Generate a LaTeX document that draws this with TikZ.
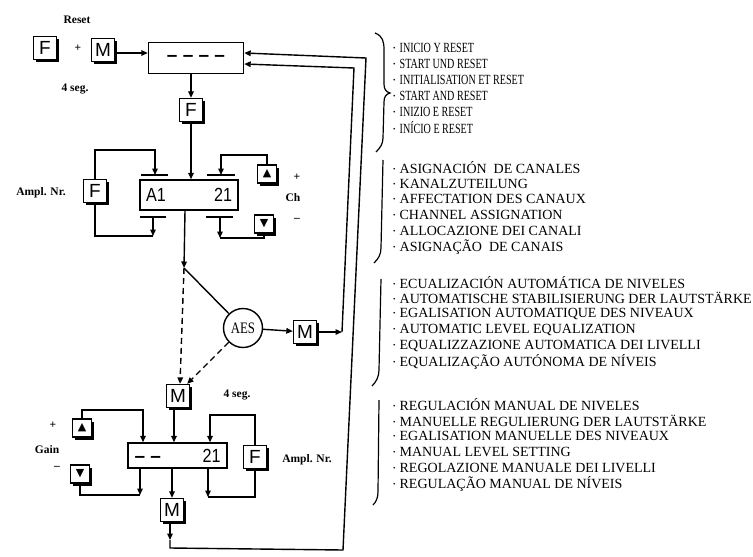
\documentclass[tikz,border=0pt]{standalone}
\usepackage{fontspec}
\setmainfont{Liberation Serif}
\newfontfamily\keyf{Liberation Sans}
\newfontfamily\symf{DejaVu Sans}
\usetikzlibrary{arrows.meta,shadows}
\newcommand\bul{\raisebox{0.35ex}{\fontsize{7}{7}\selectfont •}\hspace{4pt}}
\begin{document}
\begin{tikzpicture}[x=1pt,y=1pt,
  ln/.style={line width=1.4pt},
  arr/.style={line width=1.4pt,-{Triangle[length=6.5pt,width=5.5pt]}},
  dsh/.style={arr,dash pattern=on 6pt off 4pt},
  bar/.style={line width=1.8pt},
  key/.style={draw,fill=white,line width=1.3pt,minimum width=23pt,minimum height=23pt,inner sep=0pt,
    font=\keyf\fontsize{19}{19}\selectfont,
    drop shadow={shadow xshift=2.5pt,shadow yshift=-2.5pt,fill=black,opacity=1}},
  tkey/.style={key,minimum width=19pt,minimum height=18pt,font=\symf\fontsize{11}{11}\selectfont},
  disp/.style={draw,line width=1.4pt,inner sep=0pt,font=\keyf\fontsize{19}{19}\selectfont},
  lab/.style={inner sep=0pt,font=\bfseries\fontsize{11.5}{11.5}\selectfont},
  tx/.style={anchor=west,inner sep=0pt,font=\fontsize{14}{14}\selectfont}
]
\useasboundingbox (0,0) rectangle (753,-557);

% ---------- top: reset ----------
\node[lab] (reset) at (77,-20) {Reset};
\node[key] (f1) at (45,-48) {F};
\node[lab] (plus1) at (78,-48) {+};
\node[key] (m1) at (103,-50) {M};
\node[disp,minimum width=95pt,minimum height=31pt] (d1) at (196,-58) {\textbf{– – – –}};
\node[lab] (seg1) at (75,-89) {4 seg.};
\node[key] (f2) at (191,-110) {F};
\draw[arr] ([yshift=-3pt]m1.east) -- ([yshift=-3pt]m1.east -| d1.west);
\draw[arr] (d1.south -| f2.north) -- (f2.north);

% ---------- channel assignation ----------
\node[disp,minimum width=98pt,minimum height=30pt] (d2) at (189,-195)
  {\makebox[86pt]{\scalebox{0.85}[1]{A1}\hfill\scalebox{0.85}[1]{21}}};
\draw[arr] (f2.south) -- (f2.south |- d2.north);

\coordinate (tlb) at (155,-175);
\coordinate (trb) at (221,-175);
\coordinate (blb) at (153,-217);
\coordinate (brb) at (220,-217);
\draw[bar] (141,-175) -- (168,-175);
\draw[bar] (207,-175) -- (235,-175);
\draw[bar] (140,-217) -- (166,-217);
\draw[bar] (206,-217) -- (233,-217);

\node[key] (f3) at (95,-191) {F};
\node[lab] (ampl1) at (41,-193) {Ampl. Nr.};
\node[tkey] (up1) at (267,-174) {▲};
\node[tkey] (dn1) at (264,-224) {▼};
\node[lab] (plus2) at (297,-177) {+};
\node[lab] (ch) at (293,-198) {Ch};
\node[lab] (minus2) at (297,-220) {–};

\coordinate (k1) at (155,-150);
\draw[arr] (f3.north) |- (k1) -- (tlb);
\coordinate (k2) at (221,-155);
\draw[arr] (up1.north) |- (k2) -- (trb);
\coordinate (k3) at (153,-236);
\draw[ln] (f3.south) |- (k3);
\draw[arr] (blb) -- (k3);
\coordinate (k4) at (220,-238);
\draw[ln] (dn1.south) |- (k4);
\draw[arr] (brb) -- (k4);

% ---------- AES ----------
\coordinate (j) at (184,-268);
\draw[arr] ([xshift=-4pt]d2.south) -- (j);
\node[circle,draw,line width=1.4pt,minimum size=39pt,inner sep=0pt,
  font=\fontsize{16}{16}\selectfont] (aes) at (243,-328) {\scalebox{0.8}[1]{AES}};
\draw[ln] (j) -- (aes);
\node[key] (m5) at (305,-332) {M};
\draw[arr] (aes) -- (m5);
\coordinate (ri) at (342,-332);
\coordinate (ri2) at (354,-68);
\draw[arr] (m5) -- (ri);
\draw[arr] (ri) -- (ri2) -- ([yshift=-6pt]d1.east);

% ---------- manual level ----------
\node[key] (m4) at (178,-396) {M};
\draw[dsh] (j) -- ([xshift=2pt]m4.north);
\draw[dsh] (aes) -- ([xshift=-3pt]m4.north east);
\node[lab] (seg2) at (237,-395) {4 seg.};

\node[disp,minimum width=99pt,minimum height=25pt] (d3) at (177.5,-455.5)
  {\makebox[86pt]{\textbf{– –}\hfill\scalebox{0.85}[1]{21}}};
\draw[arr] ([xshift=-4pt]m4.south) -- ([xshift=-4pt]m4.south |- d3.north);

\node[tkey] (up2) at (82,-428) {▲};
\node[tkey] (dn2) at (80,-474) {▼};
\node[lab] (plus3) at (53,-425) {+};
\node[lab] (gain) at (47,-450) {Gain};
\node[lab] (minus3) at (57,-468) {–};
\node[key] (f6) at (255,-457) {F};
\node[lab] (ampl2) at (307,-460) {Ampl. Nr.};
\node[key] (m7) at (172,-510) {M};

\coordinate (k5) at (143,-410);
\draw[arr] (up2.north) |- (k5) -- (k5 |- d3.north);
\coordinate (k6) at (140,-495);
\draw[ln] (dn2.south) |- (k6);
\draw[arr] (k6 |- d3.south) -- (k6);
\coordinate (k7) at (210,-415);
\draw[arr] (f6.north) |- (k7) -- (k7 |- d3.north);
\coordinate (k8) at (208,-497);
\draw[ln] (f6.south) |- (k8);
\draw[arr] (k8 |- d3.south) -- (k8);
\draw[arr] (m7.north |- d3.south) -- (m7.north);

\coordinate (ma) at (170,-540);
\coordinate (ro1) at (170,-548);
\coordinate (ro2) at (343,-550);
\coordinate (ro3) at (366,-58);
\draw[arr] ([xshift=-2pt]m7.south) -- (ma);
\draw[arr] (ma) -- (ro1) -- (ro2) -- (ro3) -- ([yshift=5pt]d1.east);

% ---------- braces ----------
\draw[line width=1.2pt] (375,-33) .. controls (383,-36) and (384,-42) .. (384,-50) -- (384,-84)
  .. controls (384,-89) and (386,-92) .. (390,-93) .. controls (386,-94) and (384,-97) .. (384,-102)
  -- (383,-138) .. controls (383,-144) and (380,-148) .. (376,-152);
\draw[line width=1.2pt] (383,-160) -- (381,-248) .. controls (381,-255) and (378,-259) .. (374,-263);
\draw[line width=1.2pt] (381,-279) -- (379,-370) .. controls (379,-377) and (376,-382) .. (372,-386);
\draw[line width=1.2pt] (379,-400) -- (378,-492) .. controls (378,-498) and (376,-502) .. (373,-505);

% ---------- texts ----------
\node[tx] (t11) at (393,-48)  {\bul\scalebox{0.72}[1]{INICIO Y RESET}};
\node[tx] (t12) at (393,-64)  {\bul\scalebox{0.72}[1]{START UND RESET}};
\node[tx] (t13) at (393,-80)  {\bul\scalebox{0.72}[1]{INITIALISATION ET RESET}};
\node[tx] (t14) at (393,-96)  {\bul\scalebox{0.72}[1]{START AND RESET}};
\node[tx] (t15) at (393,-112) {\bul\scalebox{0.72}[1]{INIZIO E RESET}};
\node[tx] (t16) at (393,-128) {\bul\scalebox{0.72}[1]{INÍCIO E RESET}};

\node[tx] (t21) at (393,-168) {\bul ASIGNACIÓN\ \ DE CANALES};
\node[tx] (t22) at (393,-184) {\bul KANALZUTEILUNG};
\node[tx] (t23) at (393,-199) {\bul AFFECTATION DES CANAUX};
\node[tx] (t24) at (393,-215) {\bul CHANNEL ASSIGNATION};
\node[tx] (t25) at (393,-231) {\bul ALLOCAZIONE DEI CANALI};
\node[tx] (t26) at (393,-247) {\bul ASIGNAÇÃO\ \ DE CANAIS};

\node[tx] (t31) at (393,-283) {\bul ECUALIZACIÓN AUTOMÁTICA DE NIVELES};
\node[tx] (t32) at (393,-298) {\bul AUTOMATISCHE STABILISIERUNG DER LAUTSTÄRKE};
\node[tx] (t33) at (393,-314) {\bul EGALISATION AUTOMATIQUE DES NIVEAUX};
\node[tx] (t34) at (393,-330) {\bul AUTOMATIC LEVEL EQUALIZATION};
\node[tx] (t35) at (393,-346) {\bul EQUALIZZAZIONE AUTOMATICA DEI LIVELLI};
\node[tx] (t36) at (393,-362) {\bul EQUALIZAÇÃO AUTÓNOMA DE NÍVEIS};

\node[tx] (t41) at (393,-405) {\bul REGULACIÓN MANUAL DE NIVELES};
\node[tx] (t42) at (393,-421) {\bul MANUELLE REGULIERUNG DER LAUTSTÄRKE};
\node[tx] (t43) at (393,-436) {\bul EGALISATION MANUELLE DES NIVEAUX};
\node[tx] (t44) at (393,-452) {\bul MANUAL LEVEL SETTING};
\node[tx] (t45) at (393,-468) {\bul REGOLAZIONE MANUALE DEI LIVELLI};
\node[tx] (t46) at (393,-484) {\bul REGULAÇÃO MANUAL DE NÍVEIS};
\end{tikzpicture}
\end{document}
